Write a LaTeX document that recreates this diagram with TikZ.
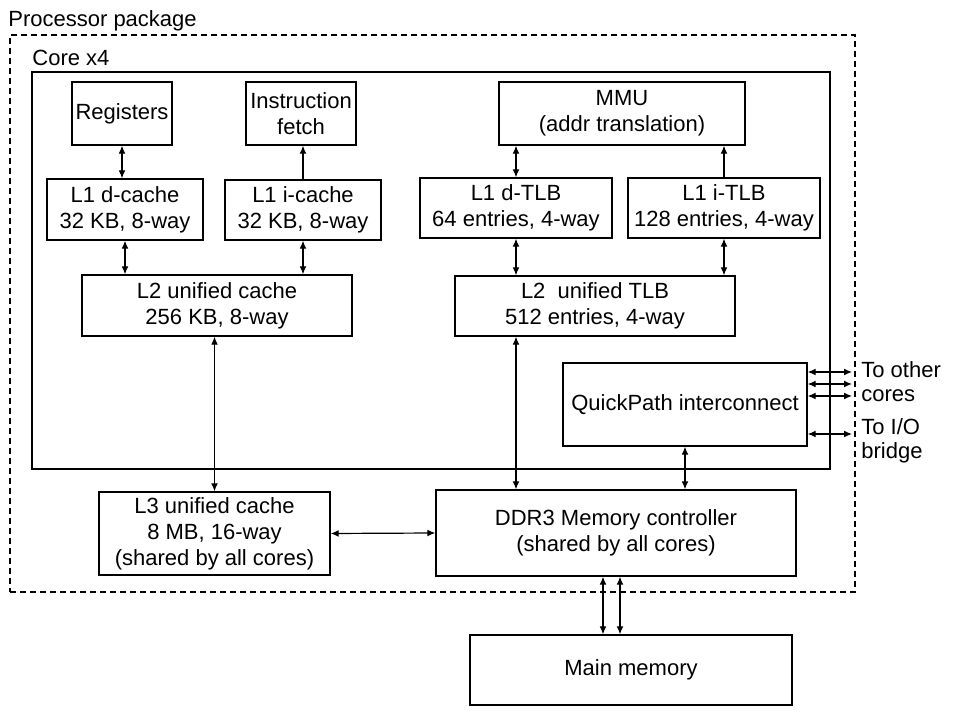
\documentclass[tikz,border=0pt]{standalone}
\usepackage{fontspec}
\setmainfont{Liberation Sans}
\usepackage{tikz}
\usetikzlibrary{arrows.meta,positioning}
\tikzstyle{unit} = [rectangle, draw, line width=0.65pt, fill=white, align=center, inner sep=0pt, font=\fontsize{11}{13}\selectfont]
\tikzstyle{arrow} = [line width=0.6pt, <->, >={Latex[length=4pt,width=3.4pt]}]
\tikzstyle{label} = [inner sep=0pt, font=\fontsize{11}{12}\selectfont]

\begin{document}
\begin{tikzpicture}[x=0.5pt, y=-0.5pt]
\useasboundingbox (0,0) rectangle (954,716);
% Package and core frames
\node (pkg) [rectangle, draw, line width=0.6pt, dash pattern=on 3pt off 2pt, minimum width=422.5pt, minimum height=278.5pt] at (432.5,313.5) {};
\node (core) [rectangle, draw, line width=0.65pt, minimum width=399pt, minimum height=198.5pt] at (431,270.5) {};
\node (pkglabel) [label, anchor=base west] at (8,27) {Processor package};
\node (corelabel) [label, anchor=base west] at (32,66) {Core x4};

% Top row
\node (regs) [unit, minimum width=50pt, minimum height=31.5pt] at (122,113.5) {Registers};
\node (ifetch) [unit, minimum width=55pt, minimum height=31.5pt] at (301,113.5) {Instruction\\fetch};
\node (mmu) [unit, minimum width=123pt, minimum height=31.5pt] at (622,113.5) {MMU\\(addr translation)};

% L1 caches and TLBs
\node (l1d) [unit, minimum width=78pt, minimum height=30.5pt] at (125,209.5) {L1 d-cache\\32 KB, 8-way};
\node (l1i) [unit, minimum width=78pt, minimum height=30pt] at (303,210) {L1 i-cache\\32 KB, 8-way};
\node (l1dt) [unit, minimum width=96pt, minimum height=30pt] at (516,208) {L1 d-TLB\\64 entries, 4-way};
\node (l1it) [unit, minimum width=96pt, minimum height=30pt] at (724,208) {L1 i-TLB\\128 entries, 4-way};

% L2 level
\node (l2c) [unit, minimum width=135pt, minimum height=30.5pt] at (217,305.5) {L2 unified cache\\256 KB, 8-way};
\node (l2t) [unit, minimum width=140pt, minimum height=30pt] at (595,306) {L2~~unified TLB\\512 entries, 4-way};
\node (qpi) [unit, minimum width=122pt, minimum height=41.5pt] at (685,404.5) {QuickPath interconnect};

% Shared parts
\node (l3) [unit, minimum width=115.5pt, minimum height=41.5pt] at (214.5,533.5) {L3 unified cache\\8 MB, 16-way\\(shared by all cores)};
\node (ddr) [unit, minimum width=180pt, minimum height=43pt] at (616,533) {DDR3 Memory controller\\(shared by all cores)};
\node (mem) [unit, minimum width=161pt, minimum height=35pt] at (631,670) {Main memory};

% Outside links
\coordinate (o1) at (852,372);
\coordinate (o2) at (852,384);
\coordinate (o3) at (852,396);
\coordinate (io) at (852,434);
\node (cores) [label, align=left, anchor=west] at (861,382) {To other\\cores};
\node (bridge) [label, align=left, anchor=west] at (861,441) {To I/O\\bridge};

% Arrows
\draw[arrow] (regs.south) -- (regs.south |- l1d.north);
\draw[arrow, <-] (l1i.north |- ifetch.south) -- (l1i.north);
\draw[arrow] (l1dt.north |- mmu.south) -- (l1dt.north);
\draw[arrow, <-] (l1it.north |- mmu.south) -- (l1it.north);
\draw[arrow] (l1d.south) -- (l1d.south |- l2c.north);
\draw[arrow] (l1i.south) -- (l1i.south |- l2c.north);
\draw[arrow] (l1dt.south) -- (l1dt.south |- l2t.north);
\draw[arrow] (l1it.south) -- (l1it.south |- l2t.north);
\draw[arrow] (l3.north |- l2c.south) -- (l3.north);
\draw[arrow] (l1dt.south |- l2t.south) -- (l1dt.south |- ddr.north);
\draw[arrow] (qpi.south) -- (qpi.south |- ddr.north);
\draw[arrow] (l3.east) -- (ddr.west);
\draw[arrow] ([xshift=-6.5pt]ddr.south) -- ([xshift=-6.5pt]ddr.south |- mem.north);
\draw[arrow] ([xshift=2pt]ddr.south) -- ([xshift=2pt]ddr.south |- mem.north);
\draw[arrow] (qpi.east |- o1) -- (o1);
\draw[arrow] (qpi.east |- o2) -- (o2);
\draw[arrow] (qpi.east |- o3) -- (o3);
\draw[arrow] (qpi.east |- io) -- (io);
\end{tikzpicture}
\end{document}
